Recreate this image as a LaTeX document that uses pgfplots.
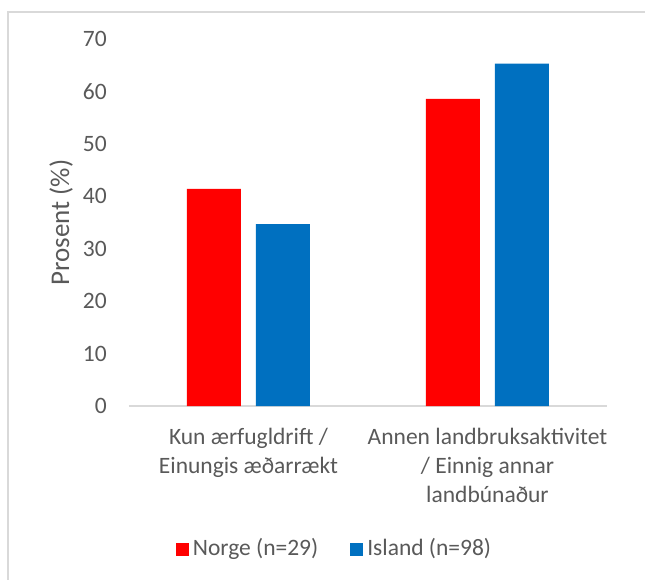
\documentclass[border=0pt]{standalone}
\usepackage{fontspec}
\setmainfont{Carlito}
\usepackage{pgfplots}
\pgfplotsset{compat=1.18}
\definecolor{norge}{HTML}{FF0000}
\definecolor{island}{HTML}{0070C0}
\definecolor{txt}{HTML}{595959}
\definecolor{frm}{HTML}{D9D9D9}
\begin{document}
\fontsize{11.75}{14.5}\selectfont
\begin{tikzpicture}
\useasboundingbox (0,0) rectangle (322.5pt,-290pt);
\draw[frm, line width=0.8pt] (4pt,-340pt) -- (4pt,-5.9pt) -- (340pt,-5.9pt);
\begin{axis}[
  at={(64.5pt,-203pt)}, anchor=south west,
  scale only axis, width=239pt, height=183.5pt,
  ymin=0, ymax=70, ytick={0,10,...,70},
  xmin=-0.5, xmax=1.5, xtick={0,1},
  xticklabels={{Kun ærfugldrift /\\Einungis æðarrækt},{Annen landbruksaktivitet\\/ Einnig annar\\landbúnaður}},
  ybar=7.5pt, bar width=27pt,
  axis x line*=bottom, axis y line*=left,
  x axis line style={draw=frm, line width=0.8pt},
  y axis line style={draw=none},
  major tick length=0pt,
  /pgf/number format/assume math mode=true,
  tick label style={text=txt, font=\fontsize{11.75}{14.5}\selectfont},
  xticklabel style={align=center, yshift=-7pt},
  yticklabel style={xshift=-7pt},
  ylabel={Prosent (\%)}, ylabel style={text=txt, font=\fontsize{13.5}{16}\selectfont},
  ylabel shift=-3pt,
  legend columns=2,
  legend style={at={(0.432,-0.39)}, anchor=center, draw=none, text=txt,
    font=\fontsize{11.75}{14.5}\selectfont,
    /tikz/every even column/.append style={column sep=14pt}},
  legend image code/.code={\fill[#1] (0pt,-3.25pt) rectangle (6.5pt,3.25pt);},
]
\addplot[fill=norge, draw=none] coordinates {(0,41.4) (1,58.6)};
\addplot[fill=island, draw=none] coordinates {(0,34.7) (1,65.3)};
\legend{Norge (n=29), Island (n=98)}
\end{axis}
\end{tikzpicture}
\end{document}
